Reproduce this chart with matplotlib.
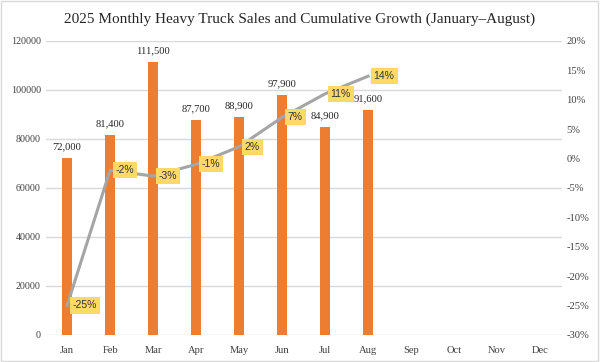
import matplotlib.pyplot as plt
import numpy as np
from matplotlib.patches import Rectangle

# data
months = ['Jan', 'Feb', 'Mar', 'Apr', 'May', 'Jun', 'Jul', 'Aug', 'Sep', 'Oct', 'Nov', 'Dec']
sales = [72000, 81400, 111500, 87700, 88900, 97900, 84900, 91600]
growth = [-25, -2, -3, -1, 2, 7, 11, 14]

plt.rcParams['font.family'] = ['Liberation Serif', 'DejaVu Serif']

fig = plt.figure(figsize=(6, 3.62), dpi=100)
fig.patches.append(Rectangle((0.002, 0.003), 0.995, 0.993, transform=fig.transFigure,
                             fill=False, edgecolor='#d9d9d9', linewidth=1))
ax1 = fig.add_axes([0.076, 0.075, 0.86, 0.812])
ax2 = ax1.twinx()

x = np.arange(len(months))
ax1.bar(x[:len(sales)], sales, width=0.24, color='#ED7D31', zorder=2)
for xi, v in zip(x, sales):
    ax1.text(xi, v + 2800, f'{v:,}', ha='center', va='bottom', fontsize=7.6, color='#262626')

ax1.set_ylim(0, 120000)
ax1.set_yticks(range(0, 120001, 20000))
ax1.set_xlim(-0.5, 11.5)
ax1.set_xticks(x)
ax1.set_xticklabels(months)
ax1.grid(axis='y', color='#d9d9d9', linewidth=1, zorder=0)
ax1.set_axisbelow(True)

ax2.plot(x[:len(growth)], growth, color='#A5A5A5', linewidth=2.2, zorder=3)
for xi, g in zip(x, growth):
    ax2.annotate(f'{g}%', (xi, g), xytext=(4, 0), textcoords='offset points',
                 ha='left', va='center', fontsize=7.5, family=['Liberation Sans'], color='#333333',
                 bbox=dict(boxstyle='square,pad=0.3', facecolor='#FFD966', edgecolor='none'),
                 zorder=4)
ax2.set_ylim(-30, 20)
ax2.set_yticks(range(-30, 21, 5))
ax2.set_yticklabels([f'{t}%' for t in range(-30, 21, 5)])

for ax in (ax1, ax2):
    for s in ax.spines.values():
        s.set_visible(False)
    ax.tick_params(length=0, labelsize=7.6, colors='#404040')
ax1.tick_params(axis='y', labelsize=7.2)
ax1.tick_params(axis='x', pad=8)

fig.suptitle('2025 Monthly Heavy Truck Sales and Cumulative Growth (January\u2013August)',
             y=0.965, fontsize=11, color='#262626')

fig.savefig('out.png', dpi=100)
